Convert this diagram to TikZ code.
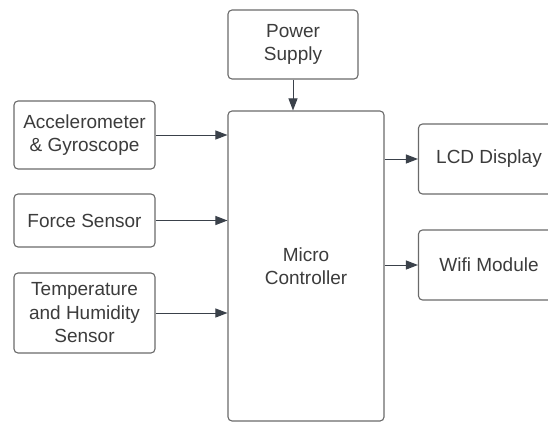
\documentclass[tikz,border=0pt]{standalone}
\usepackage{fontspec}
\setmainfont{Liberation Sans}
\usetikzlibrary{arrows.meta}
\definecolor{boxline}{HTML}{6A6A6A}
\definecolor{wire}{HTML}{3A414A}
\definecolor{label}{HTML}{3C3C3C}
\begin{document}
\begin{tikzpicture}[x=1pt,y=-1pt,
    block/.style={draw=boxline, line width=1.1pt, rounded corners=4pt, align=center,
      text=label, inner sep=2pt, font=\fontsize{19}{23.5}\selectfont},
    conn/.style={draw=wire, line width=1pt, -{Triangle[length=12pt,width=9pt]}}]
  \useasboundingbox (0,0) rectangle (548,423);
  \fill[white] (0,0) rectangle (548,423);
  \node[block, minimum width=130pt, minimum height=69pt] (power) at (293,44.5) {Power\\Supply};
  \node[block, minimum width=156pt, minimum height=310pt] (mcu) at (306,266) {Micro\\Controller};
  \node[block, minimum width=141pt, minimum height=68pt] (accel) at (84.5,135) {Accelerometer\\\& Gyroscope};
  \node[block, minimum width=141pt, minimum height=53pt] (force) at (84.5,220.5) {Force Sensor};
  \node[block, minimum width=141pt, minimum height=80pt] (temp) at (84.5,313) {Temperature\\and Humidity\\Sensor};
  \node[block, minimum width=141pt, minimum height=70pt] (lcd) at (489,159) {LCD Display};
  \node[block, minimum width=141pt, minimum height=70pt] (wifi) at (489,265) {Wifi Module};
  \begin{scope}
    \draw[conn] (power.south) -- (power.south |- mcu.north);
    \draw[conn] (accel.east) -- (accel.east -| mcu.west);
    \draw[conn] (force.east) -- (force.east -| mcu.west);
    \draw[conn] (temp.east) -- (temp.east -| mcu.west);
    \draw[conn] (lcd.west -| mcu.east) -- (lcd.west);
    \draw[conn] (wifi.west -| mcu.east) -- (wifi.west);
  \end{scope}
\end{tikzpicture}
\end{document}
